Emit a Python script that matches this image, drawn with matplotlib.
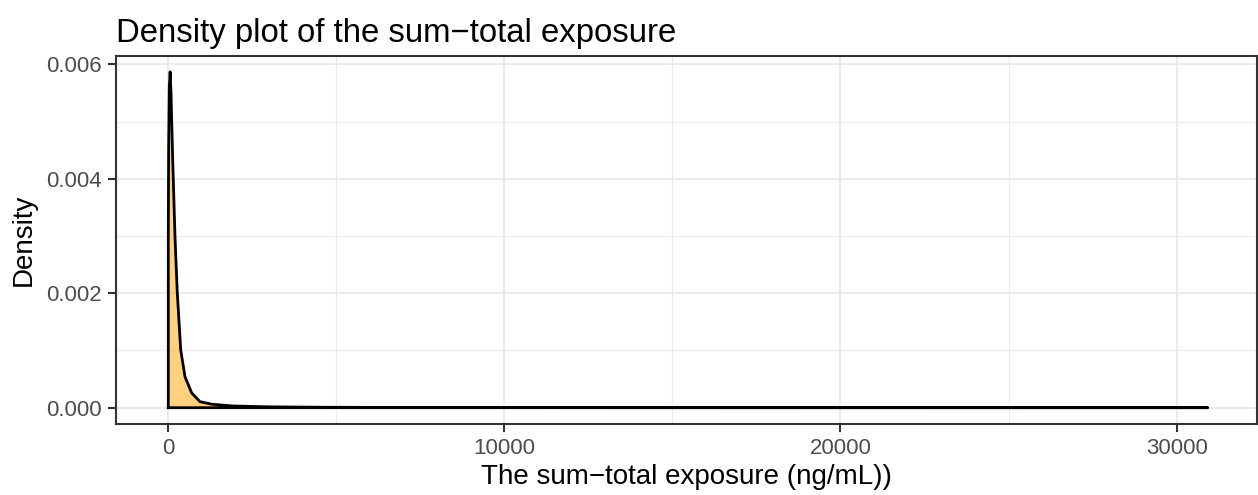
import matplotlib.pyplot as plt
from matplotlib.ticker import MultipleLocator

# density curve of the sum-total exposure (ng/mL), read as knots along the curve
exposure = [0, 10, 30, 55, 80, 131, 199, 268, 369, 497, 696, 943,
            1300, 1925, 3000, 4500, 7000, 12000, 20000, 30930]
density = [0.0030, 0.0045, 0.0056, 0.00587, 0.0055, 0.00433, 0.00299,
           0.00200, 0.00101, 0.000542, 0.000257, 0.000105, 0.00006,
           0.00003, 0.000015, 0.000008, 0.000003, 0.000001, 0.0000005,
           0.0000002]

x_ticks = [0, 10000, 20000, 30000]
x_tick_labels = ["0", "10000", "20000", "30000"]
y_ticks = [0.000, 0.002, 0.004, 0.006]
y_tick_labels = ["0.000", "0.002", "0.004", "0.006"]

plt.rcParams['font.family'] = ['Liberation Sans', 'DejaVu Sans']

fig = plt.figure(figsize=(12.58, 4.95), dpi=100)
ax = fig.add_axes([116 / 1258, 1 - 424 / 495, (1257 - 116) / 1258, (424 - 55.7) / 495])

# closed outline: up the left edge, along the curve, back along the baseline
poly_x = [exposure[0]] + exposure + [exposure[-1], exposure[0]]
poly_y = [0] + density + [0, 0]
ax.fill(poly_x, poly_y, facecolor='orange', alpha=0.5, edgecolor='none', zorder=2)
ax.plot(poly_x, poly_y, color='black', lw=2.0, solid_joinstyle='round', zorder=3)

ax.set_xlim(-1556, 32393)
ax.set_ylim(-0.000285, 0.006151)

ax.set_xticks(x_ticks)
ax.set_xticklabels(x_tick_labels)
ax.set_yticks(y_ticks)
ax.set_yticklabels(y_tick_labels)
ax.xaxis.set_minor_locator(MultipleLocator(5000))
ax.yaxis.set_minor_locator(MultipleLocator(0.001))

ax.grid(which='major', color='#EBEBEB', lw=1.5, zorder=0)
ax.grid(which='minor', color='#EBEBEB', lw=0.8, zorder=0)
ax.set_axisbelow(True)

for side in ax.spines.values():
    side.set_color('#333333')
    side.set_linewidth(1.5)

ax.tick_params(which='major', length=6, width=1.5, color='#333333',
               labelcolor='#4D4D4D', labelsize=16, pad=4)
ax.tick_params(which='minor', length=0)

ax.set_xlabel("The sum\u2212total exposure (ng/mL))", fontsize=20, labelpad=4)
ax.set_ylabel("Density", fontsize=20, labelpad=7)
ax.set_title("Density plot of the sum\u2212total exposure", fontsize=23.7,
             loc='left', pad=10)

fig.savefig("out.png", dpi=100)
